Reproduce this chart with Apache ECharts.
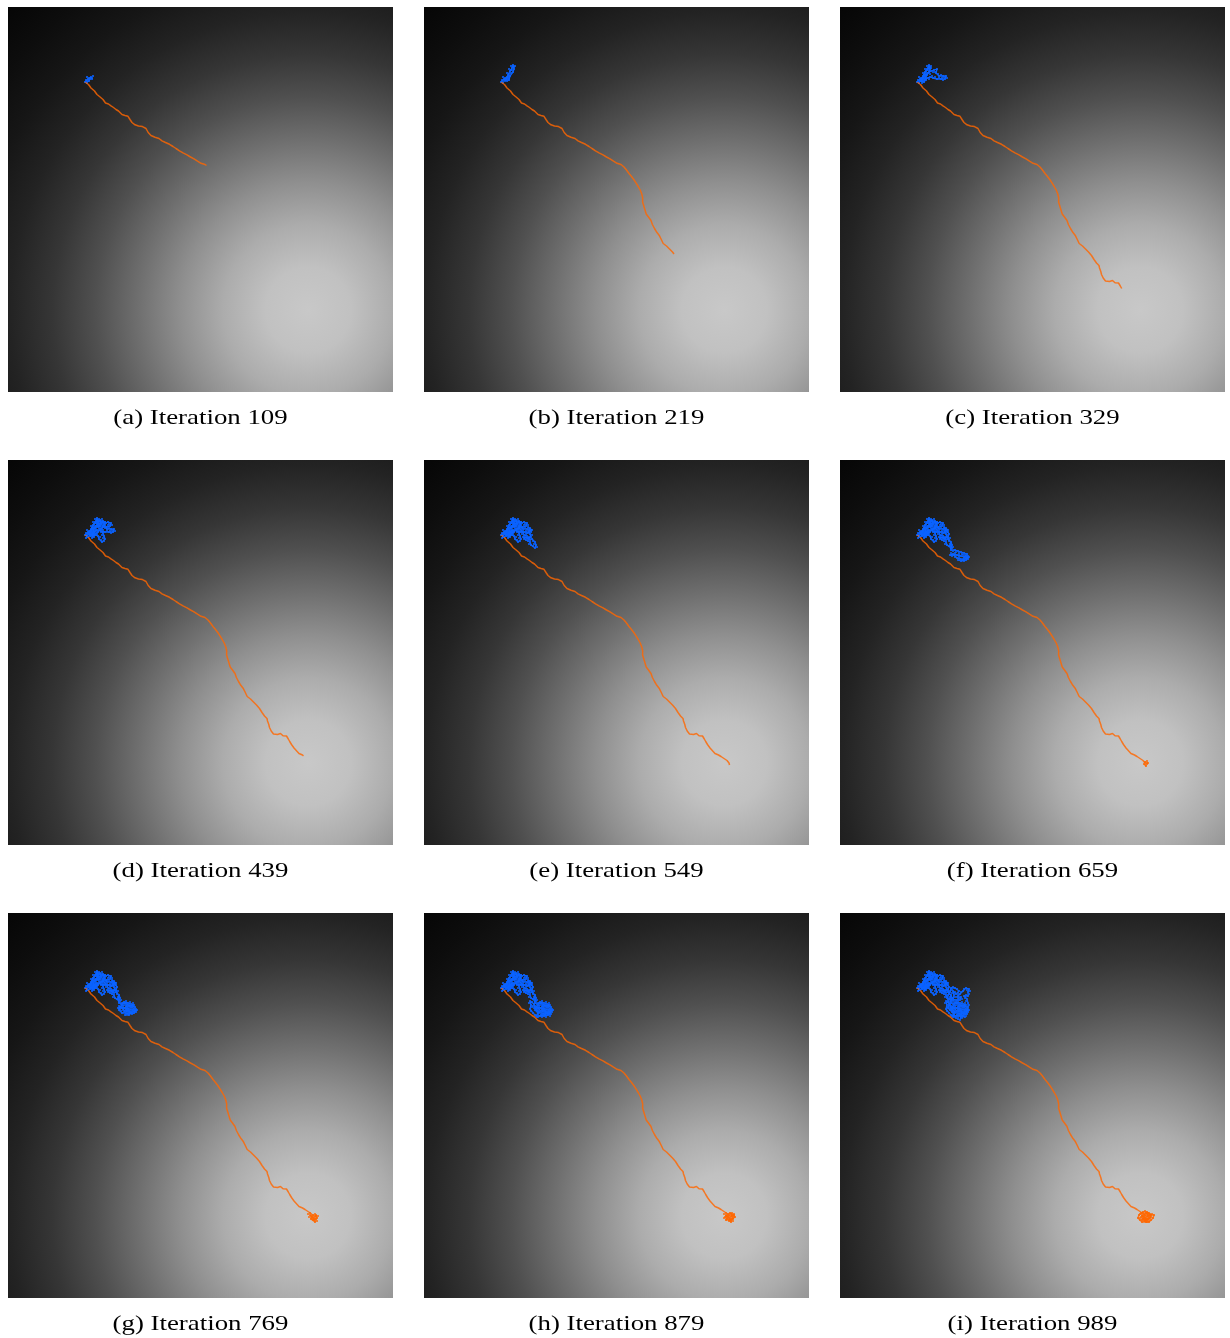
<!DOCTYPE html>
<html>
<head>
<meta charset="utf-8">
<script src="https://cdn.jsdelivr.net/npm/echarts@6/dist/echarts.min.js"></script>
<style>
  html, body { margin: 0; padding: 0; background: #ffffff; }
  #chart { width: 1230px; height: 1338px; }
</style>
</head>
<body>
<div id="chart"></div>
<script>
// Panel captions
const captions = [
  '(a) Iteration 109', '(b) Iteration 219', '(c) Iteration 329',
  '(d) Iteration 439', '(e) Iteration 549', '(f) Iteration 659',
  '(g) Iteration 769', '(h) Iteration 879', '(i) Iteration 989'
];

// Orange route (map units 0..385, y pointing down), grown stage by stage
const routeA = [[77,75],[78.5,75.5],[79,77],[80.5,77.5],[81,79],[82.5,79.5],[83,81],[84.5,81.5],[85,83],[86.5,84],[87.3,85.5],[88.5,86],[89,87.5],[90.5,88],[91.5,89.5],[93,90],[93.5,91.5],[95,92.5],[95.5,94],[97,94.5],[97.5,96],[99,96.5],[100.5,97],[101.5,98.5],[103,98.8],[104.5,99.2],[105.5,100.5],[107,101],[108,102.5],[109.5,103],[110.5,104],[112,104.5],[112.5,106],[114,107.5],[115.5,108],[117,108.5],[118.5,109],[120,109.3],[121,111],[122,112.5],[123,114],[124,115.5],[125.5,117],[127,117.8],[129,118.2],[130.5,119],[132.5,119.2],[134.5,119.6],[136.5,120.3],[138,121.5],[139,123.5],[140.2,125.5],[141.5,127.3],[143,128.5],[145,129.5],[147,130.2],[149,130.8],[151,131.5],[152.5,132.5],[154,133.8],[155.5,135],[157.5,135.5],[159.5,136.5],[161.5,137.3],[163,138.5],[165,139.5],[166.5,140.5],[168,141.5],[169.5,142.8],[171.5,143.8],[173.5,144.5],[175,145.8],[177,146.8],[179,147.8],[181,149],[182.5,150],[184,150.8],[186,151.8],[188,153],[189.5,154.2],[191,155.5],[193,156.3],[195,156.8],[197,157.5],[198.5,158.5]];
const routeB = [[200,160],[201,162],[202.5,163],[203.5,165],[205,166.5],[206,168],[207.5,169.5],[208.5,171],[209.8,172.5],[211,174],[212,175.8],[213.3,177.5],[214.2,179.5],[215.3,181],[216.2,183],[217.3,185],[217.8,187],[218.5,189],[218.7,191],[218.3,193],[218.6,195],[219,197],[219.8,199],[220.3,201],[221,203],[221.6,205],[222.2,207],[223,208.8],[224.5,210],[225.8,211.8],[227,213.5],[227.5,215.5],[228.4,217.5],[229.5,219.5],[230.5,221.5],[231.5,223.5],[232.8,225.3],[234.2,227],[235.5,228.8],[236.5,230.5],[237.3,232.5],[238.2,234.5],[239.2,236.5],[240.8,237.8],[242.5,239],[244,240.5],[245.5,242],[247,243.5],[248.5,245],[250,247]];
const routeC = [[251.5,248.5],[253,250.5],[254,252.5],[255,254.5],[256.5,256],[257.5,258],[259,258.5],[258,260],[259.5,261],[259.8,263],[260.8,264.5],[260.2,266],[261.5,267.5],[262,269.5],[263.2,271],[264,272.5],[265.5,274],[267.5,273.8],[269.5,274.5],[271.5,274.8],[272.5,273.5],[273,275.3],[275,275.8],[277,276.3],[278.5,276],[279.5,277.5],[280.3,279],[281,280.5],[281.7,281.5]];
const routeD = [[282.5,283],[283.5,284.5],[285,286],[286,288],[287,290],[288.5,290.8],[290,292],[291,293.5],[292.8,294],[294.5,295],[295.5,295.8]];
const routeE = [[297,296.5],[298.5,297.5],[300,298.5],[301.5,299.3],[303,300.5],[304,302],[305,303],[304,304.5],[305.5,305],[306.5,304]];

// Orange cluster that forms around the goal
const goalF = [[308,303],[307,301],[305,302],[307,304],[306,306],[304,304]];
const goalG = [[302,302],[300,301],[302,300],[303,303],[305,305],[308,306],[309,308],[307,309],[305,307],[303,306],[301,304],[303,305],[306,307],[309,305],[310,303],[308,302]];
const goalH = [[310,301],[311,304],[309,306],[307,307],[305,308],[302,307],[300,305],[302,303],[304,301],[306,300],[308,300],[310,302]];
const goalI = [[312,301],[314,302],[313,305],[311,307],[309,309],[306,309],[304,308],[302,309],[300,307],[298,305],[299,302],[301,300],[303,299],[305,298],[307,299],[309,300],[311,302],[310,305],[307,306],[304,306]];

// Blue walk wandering around the start
const walkA = [[77,75],[79,76],[78,73],[80,72],[79,70],[81,71],[83,70],[82,72],[84,71],[85,69],[84,72],[81,74],[79,75],[80,73]];
const walkB = [[82,72],[84,68],[83,66],[85,67],[86,64],[85,62],[87,63],[88,61],[87,59],[89,58],[90,60],[91,59],[90,62],[88,63],[89,65],[87,66],[86,69],[84,70],[85,73],[83,74],[81,73]];
const walkC = [[83,71],[85,68],[87,68],[88,66],[90,67],[91,64],[93,65],[94,63],[95,65],[97,62],[96,66],[98,67],[99,69],[101,68],[103,69],[102,71],[104,70],[106,69],[107,71],[105,72],[103,73],[101,72],[99,71],[97,72],[95,70],[93,71],[92,69],[90,70],[89,72],[87,71],[86,73],[84,75],[82,76],[80,74],[81,72],[83,69],[85,65],[87,62],[89,60],[91,61]];
const walkD = [[93,62],[95,61],[97,62],[96,64],[98,63],[100,62],[101,64],[103,63],[104,65],[102,66],[100,65],[99,67],[97,68],[95,67],[94,69],[92,70],[93,72],[95,73],[94,75],[96,76],[95,78],[97,79],[96,81],[94,82],[93,80],[91,79],[92,77],[90,76],[89,74],[87,75],[86,77],[84,78],[83,76],[85,74],[87,73],[88,70],[86,68],[88,67],[90,65],[92,66],[91,68],[93,67],[91,66],[89,63],[91,62],[93,64],[92,60],[94,59],[95,62],[97,65],[95,66],[93,69],[90,72],[88,74],[86,75],[84,73],[82,75],[80,77],[78,78],[79,76]];
const walkE = [[95,68],[97,70],[99,72],[98,74],[100,75],[102,74],[103,76],[105,77],[104,79],[106,80],[108,79],[109,81],[111,82],[110,84],[112,85],[113,87],[111,88],[109,86],[107,85],[105,84],[106,82],[104,81],[102,80],[100,79],[99,77],[101,76],[103,78],[105,79],[107,77],[108,75],[106,74],[104,73],[105,71],[107,72],[108,70],[106,68],[104,67]];
const walkF = [[106,70],[108,72],[109,74],[108,77],[110,78],[109,80],[111,83],[110,86],[112,88],[111,90],[113,91],[115,90],[116,92],[118,91],[119,93],[121,92],[122,94],[124,93],[125,95],[127,94],[128,96],[127,98],[125,97],[124,99],[122,100],[120,99],[119,97],[117,98],[115,97],[114,95],[112,96],[110,95],[111,93],[113,94],[115,93],[117,95],[119,95],[121,96],[123,95],[124,97],[126,96],[129,97],[128,99],[126,100],[124,101],[121,101],[118,100]];
const walkG = [[116,99],[114,100],[113,98],[111,97],[112,94],[114,92],[116,89],[118,88],[120,90],[122,89],[123,91],[125,90],[126,92],[124,94],[122,93],[120,94],[118,93],[116,95],[118,97],[120,96],[122,98],[123,100],[121,102],[119,101],[117,102]];
const walkH = [[115,103],[113,104],[111,102],[109,100],[107,98],[106,96],[108,94],[107,92],[105,90],[106,88],[108,89],[110,91],[109,93],[111,95],[113,96],[115,99],[114,101],[112,103],[114,104],[116,103],[118,104],[120,103],[122,104],[124,102],[126,103],[127,101],[125,99]];
const walkI = [[127,97],[128,94],[129,92],[128,90],[126,88],[127,86],[125,85],[124,83],[126,82],[128,83],[129,81],[128,79],[130,78],[129,76],[127,77],[126,75],[124,76],[123,78],[121,79],[120,81],[118,82],[117,84],[119,85],[121,84],[122,86],[120,87],[118,86],[116,87],[114,88],[113,86],[115,84],[114,82],[112,80],[113,78],[115,79],[116,81],[118,80],[119,78],[117,76],[115,75],[113,74],[111,75],[112,77],[110,79],[108,82],[107,84],[108,87],[110,89],[109,92],[108,95],[110,97],[112,99],[114,102],[116,105],[118,106],[120,107],[122,105],[121,103],[123,103],[125,104]];

const routeStages = [routeA, routeB, routeC, routeD, routeE];
const goalStages = [goalF, goalG, goalH, goalI];
const walkStages = [walkA, walkB, walkC, walkD, walkE, walkF, walkG, walkH, walkI];

// How many stages each panel has reached
const routeReached = [1, 2, 3, 4, 5, 5, 5, 5, 5];
const goalReached  = [0, 0, 0, 0, 0, 1, 2, 3, 4];
const walkReached  = [1, 2, 3, 4, 5, 6, 7, 8, 9];

// Layout of the 3x3 panel grid (pixels)
const colLeft = [8, 424, 840];
const rowTop = [7, 460, 913];
const panelSize = 385;
const mapSize = 385;

const orange = 'rgba(255, 102, 0, 0.82)';
const blue = '#0a62ff';

function joinStages(stages, n) {
  let out = [];
  for (let i = 0; i < n; i++) out = out.concat(stages[i]);
  return out;
}

function fieldGradient() {
  return new echarts.graphic.RadialGradient(0.78, 0.787, 1.107, [
    { offset: 0.0, color: '#c8c8c8' },
    { offset: 0.1, color: '#c1c1c1' },
    { offset: 0.2, color: '#acacac' },
    { offset: 0.3, color: '#8f8f8f' },
    { offset: 0.4, color: '#6f6f6f' },
    { offset: 0.5, color: '#505050' },
    { offset: 0.6, color: '#363636' },
    { offset: 0.7, color: '#232323' },
    { offset: 0.8, color: '#161616' },
    { offset: 0.9, color: '#0d0d0d' },
    { offset: 1.0, color: '#060606' }
  ]);
}

const grids = [], xAxes = [], yAxes = [], series = [], texts = [];

for (let p = 0; p < 9; p++) {
  const left = colLeft[p % 3];
  const top = rowTop[Math.floor(p / 3)];
  grids.push({
    left: left, top: top, width: panelSize, height: panelSize,
    show: true, backgroundColor: fieldGradient(), borderWidth: 0
  });
  xAxes.push({ gridIndex: p, type: 'value', min: 0, max: mapSize, show: false });
  yAxes.push({ gridIndex: p, type: 'value', min: 0, max: mapSize, inverse: true, show: false });

  const route = joinStages(routeStages, routeReached[p]);
  const goal = joinStages(goalStages, goalReached[p]);
  const walk = joinStages(walkStages, walkReached[p]);

  // orange route plus its goal cluster
  series.push({
    type: 'line', xAxisIndex: p, yAxisIndex: p, data: route.concat(goal),
    symbol: 'none', smooth: false, silent: true,
    lineStyle: { color: orange, width: 1.5 }
  });
  series.push({
    type: 'scatter', xAxisIndex: p, yAxisIndex: p, data: goal,
    symbol: 'rect', symbolSize: 2, silent: true,
    itemStyle: { color: 'rgba(255, 102, 0, 0.9)' }
  });
  // blue walk near the start, drawn as a trail with small square samples
  series.push({
    type: 'line', xAxisIndex: p, yAxisIndex: p, data: walk,
    symbol: 'none', smooth: false, silent: true,
    lineStyle: { color: blue, width: 1.3 }
  });
  series.push({
    type: 'scatter', xAxisIndex: p, yAxisIndex: p, data: walk,
    symbol: 'rect', symbolSize: 2, silent: true,
    itemStyle: { color: blue }
  });

  texts.push({
    type: 'text',
    x: left + panelSize / 2,
    y: top + panelSize + 26,
    scaleX: 1.22,
    style: {
      text: captions[p],
      fill: '#000000',
      fontFamily: 'Liberation Serif',
      fontSize: 22,
      textAlign: 'center',
      textVerticalAlign: 'middle'
    }
  });
}

const chart = echarts.init(document.getElementById('chart'), null, { renderer: 'canvas' });
chart.setOption({
  animation: false,
  backgroundColor: '#ffffff',
  grid: grids,
  xAxis: xAxes,
  yAxis: yAxes,
  series: series,
  graphic: texts
});
</script>
</body>
</html>
